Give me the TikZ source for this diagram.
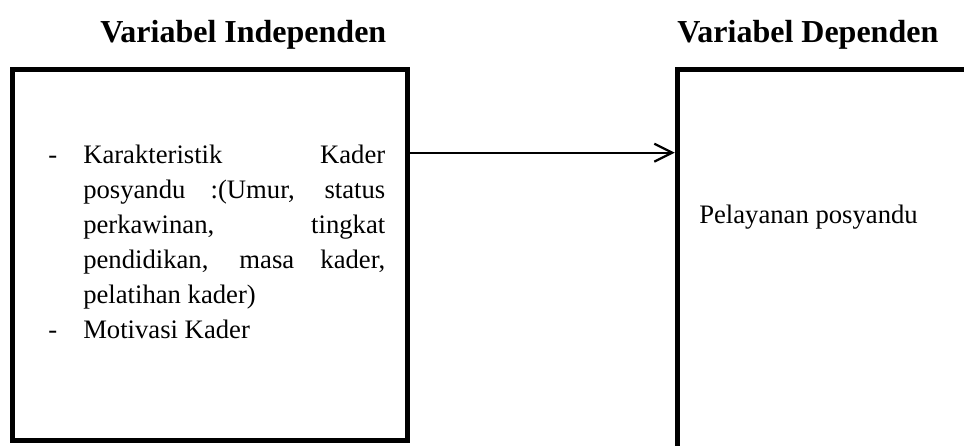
\documentclass[tikz,border=0pt]{standalone}
\usepackage{fontspec}
\setmainfont{Liberation Serif}
\usetikzlibrary{arrows.meta}

\tikzset{
  varbox/.style={draw, rectangle, line width=3.75pt, outer sep=0pt, inner sep=0pt, anchor=north west},
  vartitle/.style={anchor=base west, inner sep=0pt, font=\fontsize{24pt}{28pt}\selectfont\bfseries},
  vartext/.style={anchor=base west, inner sep=0pt, font=\fontsize{20pt}{26.25pt}\selectfont},
}

\begin{document}
\begin{tikzpicture}[x=0.75pt,y=-0.75pt]
\useasboundingbox (0,0) rectangle (964,446);
\fill[white] (0,0) rectangle (964,446);
\clip (0,0) rectangle (964,446);

\node[varbox, minimum width=296.25pt, minimum height=278.25pt] (indep) at (12.5,69.5) {};
\node[varbox, minimum width=300pt, minimum height=300pt] (dep) at (677.5,69.5) {};

\node[vartitle] (indeptitle) at (100,42) {Variabel Independen};
\node[vartitle] (deptitle) at (677,42) {Variabel Dependen};

\node[vartext, text width=252.75pt, align=justify] (indeplist) at (48,163) {%
  \tolerance=10000 \hyphenpenalty=10000 \exhyphenpenalty=10000 \parskip=0pt
  \noindent\hangindent=26.25pt \hangafter=0 \llap{\hbox to 26.25pt{-\hss}}Karakteristik Kader\linebreak
  posyandu :(Umur, status\linebreak perkawinan, tingkat\linebreak
  pendidikan, masa kader,\linebreak pelatihan kader)\par
  \noindent\hangindent=26.25pt \hangafter=0 \llap{\hbox to 26.25pt{-\hss}}Motivasi Kader\par};
\node[vartext] (deptext) at (699,223) {Pelayanan posyandu};

\coordinate (lvl) at (0,152.7);
\draw[-{Straight Barb[length=13.5pt,width=13.5pt]}, line width=1.7pt, shorten >=2pt] (indep.east |- lvl) -- (dep.west |- lvl);
\end{tikzpicture}
\end{document}
